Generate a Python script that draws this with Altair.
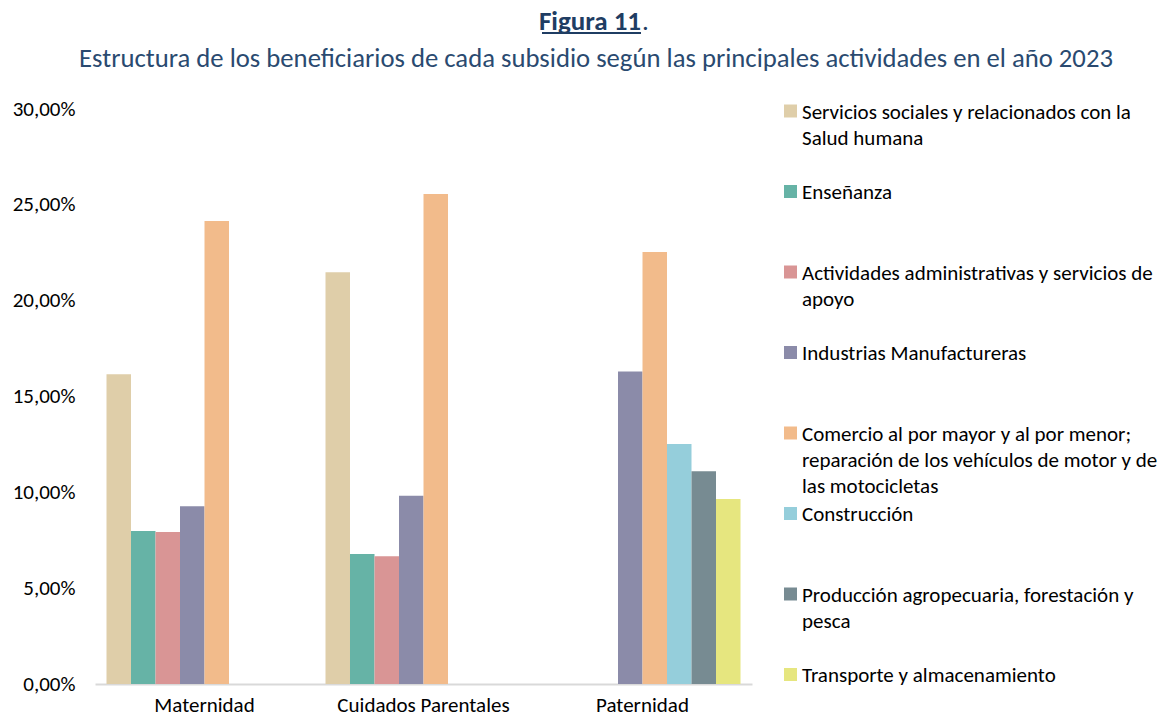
import altair as alt
import pandas as pd

# ---------------- data ----------------
grupos = ["Maternidad", "Cuidados Parentales", "Paternidad"]
actividades = [
    "Servicios sociales y relacionados con la Salud humana",
    "Enseñanza",
    "Actividades administrativas y servicios de apoyo",
    "Industrias Manufactureras",
    "Comercio al por mayor y al por menor; reparación de los vehículos de motor y de las motocicletas",
    "Construcción",
    "Producción agropecuaria, forestación y pesca",
    "Transporte y almacenamiento",
]
etiquetas_leyenda = [
    "Servicios sociales y relacionados con la\nSalud humana",
    "Enseñanza",
    "Actividades administrativas y servicios de\napoyo",
    "Industrias Manufactureras",
    "Comercio al por mayor y al por menor;\nreparación de los vehículos de motor y de\nlas motocicletas",
    "Construcción",
    "Producción agropecuaria, forestación y\npesca",
    "Transporte y almacenamiento",
]
colores = ["#DFCEA9", "#66B3A6", "#D99595", "#8B8BA9", "#F2BB8B",
           "#95CEDB", "#778B92", "#E6E67F"]

maternidad = [16.16, 7.98, 7.93, 9.27, 24.16, None, None, None]
cuidados = [21.48, 6.78, 6.66, 9.82, 25.57, None, None, None]
paternidad = [None, None, None, 16.31, 22.54, 12.52, 11.10, 9.65]

ticks_y = [0, 5, 10, 15, 20, 25, 30]
titulo = "Figura 11"
subtitulo = "Estructura de los beneficiarios de cada subsidio según las principales actividades en el año 2023"

# ---------------- tables ----------------
rows = []
for g, serie in zip(grupos, [maternidad, cuidados, paternidad]):
    for a, v in zip(actividades, serie):
        if v is not None:
            rows.append({"grupo": g, "actividad": a, "valor": v})
df = pd.DataFrame(rows)
leg = pd.DataFrame({"actividad": actividades, "etiqueta": etiquetas_leyenda})

FONT = "Carlito, Lato, sans-serif"
W, H = 657, 575
TITLE_COLOR = "#1F3D63"
SUB_COLOR = "#2A4A70"

color_scale = alt.Scale(domain=actividades, range=colores)

bars = alt.Chart(df).mark_bar().encode(
    x=alt.X("grupo:N", sort=grupos,
            scale=alt.Scale(paddingInner=0.105, paddingOuter=0.0525),
            axis=alt.Axis(title=None, labelAngle=0, labelFontSize=21, labelColor="#000000",
                          labelFont=FONT, labelPadding=10, ticks=False, tickSize=0,
                          domainColor="#D9D9D9", domainWidth=2)),
    xOffset=alt.XOffset("actividad:N", sort=actividades,
                        scale=alt.Scale(domain=actividades, paddingInner=0, paddingOuter=0)),
    y=alt.Y("valor:Q", scale=alt.Scale(domain=[0, 30]),
            axis=alt.Axis(title=None, values=ticks_y, grid=False, domain=False, ticks=False,
                          tickSize=0, labelFontSize=21, labelColor="#000000", labelFont=FONT,
                          labelPadding=20, minExtent=83, maxExtent=83,
                          labelExpr="replace(format(datum.value, '.2f'), '.', ',') + '%'")),
    color=alt.Color("actividad:N", scale=color_scale, legend=None),
)

y_leg = alt.Y("actividad:N", sort=actividades,
              scale=alt.Scale(type="point", domain=actividades, range=[2, 565.5], padding=0),
              axis=None)

leg_sq = alt.Chart(leg).mark_square(size=169, opacity=1).encode(
    x=alt.value(W + 38.5),
    y=y_leg,
    color=alt.Color("actividad:N", scale=color_scale, legend=None),
)
leg_txt = alt.Chart(leg).mark_text(align="left", baseline="alphabetic", lineBreak="\n",
                                   fontSize=21, lineHeight=26.3, font=FONT, color="#000000",
                                   dy=7.5).encode(
    x=alt.value(W + 50),
    y=y_leg,
    text="etiqueta:N",
)

tit = alt.Chart(pd.DataFrame({"t": [titulo]})).mark_text(
    align="right", baseline="alphabetic", fontSize=27, fontWeight="bold",
    font=FONT, color=TITLE_COLOR).encode(x=alt.value(546), y=alt.value(-79), text="t:N")
tit_punto = alt.Chart(pd.DataFrame({"t": ["."]})).mark_text(
    align="left", baseline="alphabetic", fontSize=27,
    font=FONT, color=TITLE_COLOR).encode(x=alt.value(547), y=alt.value(-79), text="t:N")
subrayado = alt.Chart(pd.DataFrame({"t": [titulo]})).mark_rule(
    color=TITLE_COLOR, strokeWidth=2).encode(
    x=alt.value(447), x2=alt.value(546), y=alt.value(-76))
sub = alt.Chart(pd.DataFrame({"t": [subtitulo]})).mark_text(
    align="center", baseline="alphabetic", fontSize=26.7,
    font=FONT, color=SUB_COLOR).encode(x=alt.value(501), y=alt.value(-42.5), text="t:N")

chart = alt.layer(bars, leg_sq, leg_txt, tit, tit_punto, subrayado, sub).resolve_scale(
    y="independent"
).properties(
    width=W, height=H,
    padding={"left": 4, "top": 0, "right": 0, "bottom": 0},
).configure_view(stroke=None)

chart.save("out.html", embed_options={"renderer": "svg", "actions": False})
